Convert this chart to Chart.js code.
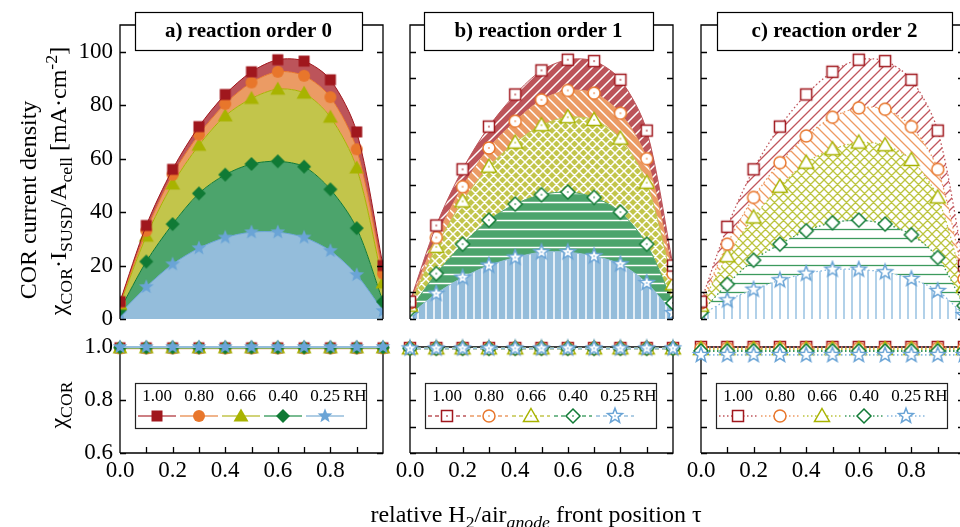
<!DOCTYPE html>
<html>
<head>
<meta charset="utf-8">
<script src="https://cdn.jsdelivr.net/npm/chart.js@4.4.1/dist/chart.umd.min.js"></script>
<style>
  html, body { margin: 0; padding: 0; background: #fff; overflow: hidden; }
  #fig { position: relative; width: 990px; height: 527px; font-family: "Liberation Serif", "Times New Roman", serif; color: #000; }
  #fig canvas { position: absolute; }
  .lbl { position: absolute; white-space: nowrap; font-size: 24px; line-height: 1; }
  .rot { transform: translate(-50%, -50%) rotate(-90deg); }
  .lbl sub, .lbl sup { font-size: 74%; line-height: 0; }
</style>
</head>
<body>
<div id="fig">
  <canvas id="topA" width="400" height="349" style="left:0;top:0"></canvas>
  <canvas id="topB" width="300" height="349" style="left:390px;top:0"></canvas>
  <canvas id="topC" width="300" height="349" style="left:680px;top:0"></canvas>
  <canvas id="chiA" width="400" height="210" style="left:0;top:317px"></canvas>
  <canvas id="chiB" width="300" height="210" style="left:390px;top:317px"></canvas>
  <canvas id="chiC" width="300" height="210" style="left:680px;top:317px"></canvas>

  <div class="lbl rot" style="left:28px;top:200px">COR current density</div>
  <div class="lbl rot" style="left:58px;top:181px">χ<sub>COR</sub>·I<sub>SUSD</sub>/A<sub>cell</sub> [mA·cm<sup>-2</sup>]</div>
  <div class="lbl rot" style="left:58px;top:405px">χ<sub>COR</sub></div>
  <div class="lbl" style="left:536px;top:502px;transform:translateX(-50%)">relative H<sub>2</sub>/air<sub><i>anode</i></sub> front position τ</div>
</div>
<script>
// relative front position and relative humidity series
const tau = [0, 0.1, 0.2, 0.3, 0.4, 0.5, 0.6, 0.7, 0.8, 0.9, 1.0];
const rhLabels = ["1.00", "0.80", "0.66", "0.40", "0.25"];

// COR current density, reaction order 0
const a100 = [6.5, 35, 56, 72, 84, 92.5, 97, 96.5, 89.5, 70, 20];
const a080 = [6, 33, 54, 69, 80.5, 88.5, 92.5, 91, 83, 63.5, 17];
const a066 = [5.5, 31, 50.5, 65, 76, 82.5, 86, 84.5, 75.5, 56.5, 13.5];
const a040 = [3.5, 21.5, 35.5, 47, 54, 58, 59, 57, 48.5, 34, 6.5];
const a025 = [2, 12, 20.5, 26.5, 30.5, 32.5, 32.5, 30.5, 25.5, 16.5, 3];

// reaction order 1
const b100 = [6.5, 35, 56, 72, 84, 93, 97, 96.5, 89.5, 70.5, 20];
const b080 = [6, 30.5, 49.5, 64, 74, 82, 85.5, 84.5, 77, 60, 17];
const b066 = [5, 27, 44, 57, 66, 72.5, 75.5, 74.5, 67.5, 51, 13];
const b040 = [3.5, 17, 28, 37, 43, 46.5, 47.5, 45.5, 40, 28, 6];
const b025 = [1.5, 9.5, 15.5, 20, 23, 25, 25, 23.5, 20.5, 13.5, 2.2];

// reaction order 2
const c100 = [6.5, 34.5, 56, 72, 84, 92.5, 97, 96.5, 89.5, 70.5, 20];
const c080 = [6, 28, 45.5, 58.5, 68.5, 75.5, 79, 78.5, 72, 56, 15];
const c066 = [5, 23.5, 38, 49.5, 58.5, 63.5, 66, 65, 59.5, 45.5, 12];
const c040 = [2.5, 13, 22, 28, 33, 36, 37, 35.5, 31.5, 23, 5];
const c025 = [1.5, 7, 11, 14.5, 17, 18.5, 18.5, 17.5, 15, 10.5, 1.5];

// chi_COR per humidity
const chiA100 = [0.997, 0.997, 0.997, 0.997, 0.997, 0.997, 0.997, 0.997, 0.997, 0.997, 0.997];
const chiA080 = [0.995, 0.995, 0.995, 0.995, 0.995, 0.995, 0.995, 0.995, 0.995, 0.995, 0.995];
const chiA066 = [0.997, 0.997, 0.997, 0.997, 0.997, 0.997, 0.997, 0.997, 0.997, 0.997, 0.997];
const chiA040 = [0.998, 0.998, 0.998, 0.998, 0.998, 0.998, 0.998, 0.998, 0.998, 0.998, 0.998];
const chiA025 = [1.0, 1.0, 1.0, 1.0, 1.0, 1.0, 1.0, 1.0, 1.0, 1.0, 1.0];

const chiB100 = [0.996, 0.996, 0.996, 0.996, 0.996, 0.996, 0.996, 0.996, 0.996, 0.996, 0.996];
const chiB080 = [0.995, 0.995, 0.995, 0.995, 0.995, 0.995, 0.995, 0.995, 0.995, 0.995, 0.995];
const chiB066 = [0.995, 0.995, 0.995, 0.995, 0.995, 0.995, 0.995, 0.995, 0.995, 0.995, 0.995];
const chiB040 = [0.995, 0.995, 0.995, 0.995, 0.995, 0.995, 0.995, 0.995, 0.995, 0.995, 0.995];
const chiB025 = [0.995, 0.995, 0.995, 0.995, 0.995, 0.995, 0.995, 0.995, 0.995, 0.995, 0.995];

const chiC100 = [1.0, 1.0, 1.0, 1.0, 1.0, 1.0, 1.0, 1.0, 1.0, 1.0, 1.0];
const chiC080 = [0.995, 0.995, 0.995, 0.995, 0.995, 0.995, 0.995, 0.995, 0.995, 0.995, 0.995];
const chiC066 = [0.992, 0.992, 0.992, 0.992, 0.992, 0.992, 0.992, 0.992, 0.992, 0.992, 0.992];
const chiC040 = [0.985, 0.985, 0.985, 0.985, 0.985, 0.985, 0.985, 0.985, 0.985, 0.985, 0.985];
const chiC025 = [0.97, 0.97, 0.97, 0.97, 0.97, 0.97, 0.97, 0.97, 0.97, 0.97, 0.97];

const markColors = ["#a0171d", "#e8762b", "#a8b300", "#107a35", "#6aa4d6"];
const bandColors = ["#bc545a", "#eb9b64", "#c2c54b", "#4ca46c", "#94bddb"];
const hatchColors = ["#c0565c", "#ee9a62", "#bcc43e", "#3c9a5d", "#88b8de"];
const shapes = ["square", "circle", "triangle", "diamond", "star"];
const hatchKinds = ["up", "down", "cross", "h", "v"];

Chart.defaults.font.family = '"Liberation Serif", "Times New Roman", serif';
Chart.defaults.font.size = 23;
Chart.defaults.color = "#000";

function markerSprite(shape, color, mode) {
  const c = document.createElement("canvas");
  c.width = c.height = 20;
  const g = c.getContext("2d");
  g.translate(10, 10);
  g.beginPath();
  if (shape === "square") g.rect(-5.5, -5.5, 11, 11);
  else if (shape === "circle") g.arc(0, 0, 6, 0, Math.PI * 2);
  else if (shape === "triangle") { g.moveTo(0, -7.5); g.lineTo(7.5, 5.5); g.lineTo(-7.5, 5.5); g.closePath(); }
  else if (shape === "diamond") { g.moveTo(0, -7); g.lineTo(7, 0); g.lineTo(0, 7); g.lineTo(-7, 0); g.closePath(); }
  else {
    for (let k = 0; k < 10; k++) {
      const r = k % 2 ? 3.3 : 7.8;
      const ang = -Math.PI / 2 + k * Math.PI / 5;
      g.lineTo(r * Math.cos(ang), r * Math.sin(ang));
    }
    g.closePath();
  }
  if (mode === "solid") {
    g.fillStyle = color;
    g.fill();
  } else {
    g.fillStyle = "#fff";
    g.fill();
    g.lineWidth = 1.5;
    g.strokeStyle = color;
    g.stroke();
    if (mode === "dot") { g.fillStyle = color; g.fillRect(-0.7, -0.7, 1.4, 1.4); }
  }
  return c;
}

const patCtx = document.createElement("canvas").getContext("2d");
function hatch(kind, bg, fg, lw) {
  const s = kind === "up" || kind === "down" ? 10 : kind === "v" ? 8 : 9;
  const c = document.createElement("canvas");
  c.width = c.height = s;
  const g = c.getContext("2d");
  if (bg) { g.fillStyle = bg; g.fillRect(0, 0, s, s); }
  g.strokeStyle = fg;
  g.lineWidth = lw;
  g.beginPath();
  const up = () => {
    g.moveTo(-1, s + 1); g.lineTo(s + 1, -1);
    g.moveTo(-1, 1); g.lineTo(1, -1);
    g.moveTo(s - 1, s + 1); g.lineTo(s + 1, s - 1);
  };
  const down = () => {
    g.moveTo(-1, -1); g.lineTo(s + 1, s + 1);
    g.moveTo(s - 1, -1); g.lineTo(s + 1, 1);
    g.moveTo(-1, s - 1); g.lineTo(1, s + 1);
  };
  if (kind === "up") up();
  if (kind === "down") down();
  if (kind === "cross") { up(); down(); }
  if (kind === "h") { g.moveTo(0, s / 2); g.lineTo(s, s / 2); }
  if (kind === "v") { g.moveTo(s / 2, 0); g.lineTo(s / 2, s); }
  g.stroke();
  return patCtx.createPattern(c, "repeat");
}

// look of each reaction order panel
const styles = {
  a: {
    fills: bandColors,
    topLines: markColors, topWidth: 1, topDash: [],
    chiLines: bandColors, chiDash: [],
    markers: shapes.map((s, i) => markerSprite(s, markColors[i], "solid"))
  },
  b: {
    fills: hatchKinds.map((k, i) => hatch(k, bandColors[i], "#fff", 1.5)),
    topLines: bandColors, topWidth: 1, topDash: [],
    chiLines: bandColors, chiDash: [4, 3],
    markers: shapes.map((s, i) => markerSprite(s, markColors[i], "dot"))
  },
  c: {
    fills: hatchKinds.map((k, i) => hatch(k, null, hatchColors[i], 1.3)),
    topLines: hatchColors, topWidth: 1.3, topDash: [1.5, 2.5],
    chiLines: hatchColors, chiDash: [1.5, 2.5],
    markers: shapes.map((s, i) => markerSprite(s, markColors[i], "open"))
  }
};

function points(vals) {
  return tau.map((t, k) => ({ x: t, y: vals[k] }));
}

function drawFrame(chart, o) {
  const { ctx, chartArea: a, scales } = chart;
  ctx.save();
  ctx.strokeStyle = "#000";
  ctx.lineWidth = 1.3;
  ctx.beginPath();
  ctx.moveTo(a.left, a.bottom);
  ctx.lineTo(a.left, a.top);
  ctx.lineTo(a.right, a.top);
  ctx.lineTo(a.right, a.bottom);
  if (o.closed) ctx.lineTo(a.left, a.bottom);
  const len = 6;
  scales.y.ticks.forEach((t) => {
    const y = Math.round(scales.y.getPixelForValue(t.value)) + 0.5;
    if (y <= a.top + 1) return;
    ctx.moveTo(a.left, y); ctx.lineTo(a.left + len, y);
    ctx.moveTo(a.right, y); ctx.lineTo(a.right - len, y);
  });
  if (o.closed) {
    scales.x.ticks.forEach((t) => {
      const x = Math.round(scales.x.getPixelForValue(t.value)) + 0.5;
      if (x <= a.left + 1 || x >= a.right - 1) return;
      ctx.moveTo(x, a.bottom); ctx.lineTo(x, a.bottom - len);
    });
  }
  ctx.stroke();
  ctx.restore();
}

const frameTicks = {
  id: "frameTicks",
  beforeDatasetsDraw(chart, args, o) { if (o.closed) drawFrame(chart, o); },
  afterDatasetsDraw(chart, args, o) { if (!o.closed) drawFrame(chart, o); }
};

const panelTitle = {
  id: "panelTitle",
  afterDraw(chart, args, o) {
    const { ctx } = chart;
    ctx.save();
    ctx.fillStyle = "#fff";
    ctx.fillRect(o.x, 12, o.w, 39);
    ctx.strokeStyle = "#000";
    ctx.lineWidth = 1.2;
    ctx.strokeRect(o.x + 0.5, 12.5, o.w, 38);
    ctx.font = 'bold 21px "Liberation Serif"';
    ctx.fillStyle = "#000";
    ctx.textAlign = "center";
    ctx.textBaseline = "middle";
    ctx.fillText(o.text, o.x + o.w / 2, 32);
    ctx.restore();
  }
};

const rhLegend = {
  id: "rhLegend",
  afterDraw(chart) {
    const { ctx, chartArea: a } = chart;
    const x0 = a.left + 15, y0 = a.top + 36, w = 231, h = 45;
    ctx.save();
    ctx.fillStyle = "#fff";
    ctx.fillRect(x0, y0, w, h);
    ctx.strokeStyle = "#222";
    ctx.lineWidth = 1.2;
    ctx.strokeRect(x0 + 0.5, y0 + 0.5, w, h);
    ctx.font = '17px "Liberation Serif"';
    ctx.textBaseline = "middle";
    chart.data.datasets.forEach((ds, i) => {
      const cx = x0 + 22 + i * 42;
      ctx.fillStyle = "#000";
      ctx.textAlign = "center";
      ctx.fillText(ds.label, cx, y0 + 14);
      ctx.setLineDash(ds.borderDash || []);
      ctx.strokeStyle = ds.borderColor;
      ctx.lineWidth = 1.5;
      ctx.beginPath();
      ctx.moveTo(cx - 19, y0 + 33);
      ctx.lineTo(cx + 19, y0 + 33);
      ctx.stroke();
      ctx.setLineDash([]);
      Chart.helpers.drawPoint(ctx, { pointStyle: ds.pointStyle, radius: 7, rotation: 0, borderWidth: 0 }, cx, y0 + 33);
    });
    ctx.fillStyle = "#000";
    ctx.textAlign = "left";
    ctx.fillText("RH", x0 + 22 + 4 * 42 + 18, y0 + 14);
    ctx.restore();
  }
};

function topChart(id, series, st, title, axisW, padRight, showLabels) {
  new Chart(document.getElementById(id), {
    type: "line",
    data: {
      datasets: series.map((vals, i) => ({
        label: rhLabels[i],
        data: points(vals),
        fill: i < series.length - 1 ? "+1" : "origin",
        clip: 0,
        backgroundColor: st.fills[i],
        borderColor: st.topLines[i],
        borderWidth: st.topWidth,
        borderDash: st.topDash,
        tension: 0.3,
        pointStyle: st.markers[i],
        pointRadius: 7
      }))
    },
    options: {
      responsive: false,
      animation: false,
      layout: { autoPadding: false, padding: { top: 25, right: padRight, bottom: 30, left: 0 } },
      plugins: {
        legend: { display: false },
        tooltip: { enabled: false },
        filler: { drawTime: "beforeDatasetsDraw" },
        frameTicks: { closed: false },
        panelTitle: title
      },
      scales: {
        x: { type: "linear", min: 0, max: 1, display: false },
        y: {
          min: 0, max: 110,
          grid: { display: false, drawTicks: false },
          border: { display: false },
          ticks: {
            display: showLabels, stepSize: 10, padding: 7,
            callback: (v) => (v % 20 === 0 && v <= 100 ? String(v) : "")
          },
          afterFit: (s) => { s.width = axisW; }
        }
      }
    },
    plugins: [frameTicks, panelTitle]
  });
}

function chiChart(id, series, st, axisW, padRight, showLabels) {
  new Chart(document.getElementById(id), {
    type: "line",
    data: {
      datasets: series.map((vals, i) => ({
        label: rhLabels[i],
        data: points(vals),
        fill: false,
        clip: false,
        order: series.length - i,
        borderColor: st.chiLines[i],
        borderWidth: 1.8,
        borderDash: st.chiDash,
        pointStyle: st.markers[i],
        pointRadius: 7
      }))
    },
    options: {
      responsive: false,
      animation: false,
      layout: { autoPadding: false, padding: { top: 30, right: padRight, bottom: 0, left: 0 } },
      plugins: {
        legend: { display: false },
        tooltip: { enabled: false },
        frameTicks: { closed: true }
      },
      scales: {
        x: {
          type: "linear", min: 0, max: 1,
          grid: { display: false, drawTicks: false },
          border: { display: false },
          ticks: {
            stepSize: 0.1, padding: 4, autoSkip: false, maxRotation: 0,
            callback: (v) => {
              const k = Math.round(v * 10);
              return k % 2 === 0 && k < 10 ? (k / 10).toFixed(1) : "";
            }
          },
          afterFit: (s) => { s.height = 74; }
        },
        y: {
          min: 0.6, max: 1.0,
          grid: { display: false, drawTicks: false },
          border: { display: false },
          ticks: {
            display: showLabels, stepSize: 0.1, padding: 7,
            callback: (v) => (Math.round(v * 10) % 2 === 0 ? v.toFixed(1) : "")
          },
          afterFit: (s) => { s.width = axisW; }
        }
      }
    },
    plugins: [frameTicks, rhLegend]
  });
}

topChart("topA", [a100, a080, a066, a040, a025], styles.a, { text: "a) reaction order 0", x: 135, w: 227 }, 120, 17, true);
topChart("topB", [b100, b080, b066, b040, b025], styles.b, { text: "b) reaction order 1", x: 34, w: 229 }, 20, 17, false);
topChart("topC", [c100, c080, c066, c040, c025], styles.c, { text: "c) reaction order 2", x: 37, w: 235 }, 21, 16, false);

chiChart("chiA", [chiA100, chiA080, chiA066, chiA040, chiA025], styles.a, 120, 17, true);
chiChart("chiB", [chiB100, chiB080, chiB066, chiB040, chiB025], styles.b, 20, 17, false);
chiChart("chiC", [chiC100, chiC080, chiC066, chiC040, chiC025], styles.c, 21, 16, false);
</script>
</body>
</html>
